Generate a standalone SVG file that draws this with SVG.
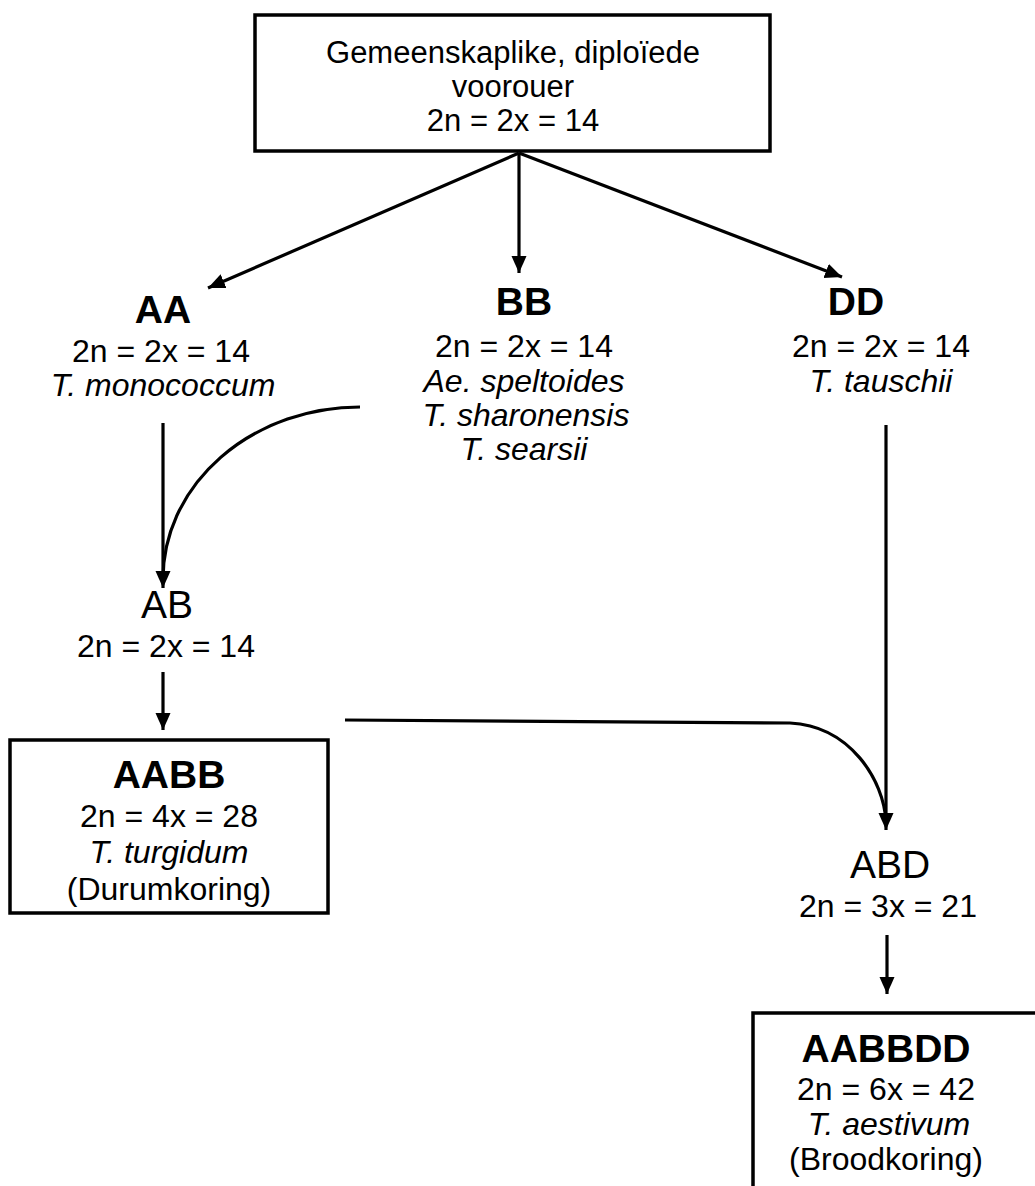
<svg xmlns="http://www.w3.org/2000/svg" width="1035" height="1186" viewBox="0 0 1035 1186">
<defs>
<style>
text{font-family:"Liberation Sans",Arial,sans-serif;fill:#000;text-anchor:middle}
.r{font-size:32px}
.t{font-size:31px}
.b{font-size:39px;font-weight:bold}
.i{font-size:32px;font-style:italic}
.g{font-size:39px}
.box{fill:#fff;stroke:#000;stroke-width:3.5}
.ln{fill:none;stroke:#000;stroke-width:3.2}
</style>
<marker id="ah" markerUnits="userSpaceOnUse" markerWidth="18" markerHeight="16" refX="17" refY="7.5" orient="auto" viewBox="0 0 18 16">
<path d="M0,0 L17,7.5 L0,15 z" fill="#000"/>
</marker>
</defs>
<rect width="1035" height="1186" fill="#fff"/>
<g id="connectors">
<line class="ln" x1="519" y1="153" x2="208" y2="288" marker-end="url(#ah)"/>
<line class="ln" x1="519" y1="153" x2="519" y2="273" marker-end="url(#ah)"/>
<line class="ln" x1="519" y1="153" x2="842" y2="277" marker-end="url(#ah)"/>
<line class="ln" x1="163" y1="423" x2="163" y2="588" marker-end="url(#ah)"/>
<path class="ln" d="M360,407 A197,172 0 0 0 163,579"/>
<line class="ln" x1="163" y1="672" x2="163" y2="730" marker-end="url(#ah)"/>
<line class="ln" x1="886" y1="425" x2="886" y2="830" marker-end="url(#ah)"/>
<path class="ln" d="M345,720 L790,723 C850,726 884,780 886,822"/>
<line class="ln" x1="887" y1="935" x2="887" y2="994" marker-end="url(#ah)"/>
</g>
<g id="ancestor">
<rect class="box" x="255" y="15" width="515" height="136"/>
<text class="t" x="513" y="63">Gemeenskaplike, diploïede</text>
<text class="t" x="513" y="97">voorouer</text>
<text class="t" x="513" y="131">2n = 2x = 14</text>
</g>
<g id="AA">
<text class="b" x="163" y="323">AA</text>
<text class="r" x="161" y="362">2n = 2x = 14</text>
<text class="i" x="163" y="396">T. monococcum</text>
</g>
<g id="BB">
<text class="b" x="524" y="315">BB</text>
<text class="r" x="524" y="357">2n = 2x = 14</text>
<text class="i" x="524" y="392">Ae. speltoides</text>
<text class="i" x="526" y="426">T. sharonensis</text>
<text class="i" x="524" y="460">T. searsii</text>
</g>
<g id="DD">
<text class="b" x="856" y="315">DD</text>
<text class="r" x="881" y="357">2n = 2x = 14</text>
<text class="i" x="881" y="392">T. tauschii</text>
</g>
<g id="AB">
<text class="g" x="167" y="618">AB</text>
<text class="r" x="166" y="657">2n = 2x = 14</text>
</g>
<g id="AABB">
<rect class="box" x="10" y="740" width="318" height="173"/>
<text class="b" x="169" y="788">AABB</text>
<text class="r" x="169" y="827">2n = 4x = 28</text>
<text class="i" x="169" y="863">T. turgidum</text>
<text class="r" x="169" y="900">(Durumkoring)</text>
</g>
<g id="ABD">
<text class="g" x="890" y="878">ABD</text>
<text class="r" x="888" y="917">2n = 3x = 21</text>
</g>
<g id="AABBDD">
<rect class="box" x="753" y="1013" width="300" height="200"/>
<text class="b" x="886" y="1062">AABBDD</text>
<text class="r" x="886" y="1100">2n = 6x = 42</text>
<text class="i" x="889" y="1135">T. aestivum</text>
<text class="r" x="886" y="1170">(Broodkoring)</text>
</g>
</svg>
